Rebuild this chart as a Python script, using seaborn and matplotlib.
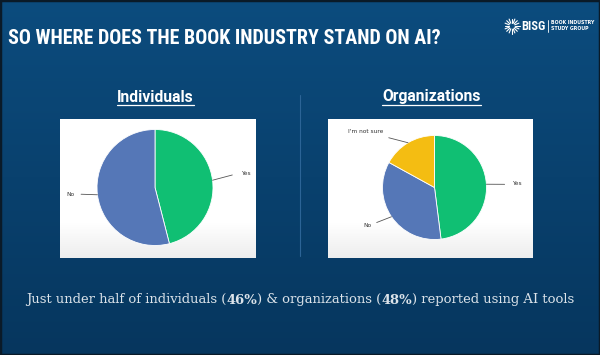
import numpy as np
import matplotlib
matplotlib.use("Agg")
import matplotlib.pyplot as plt
import seaborn as sns
from matplotlib.patches import Rectangle
from matplotlib.lines import Line2D
from matplotlib import font_manager

# ---- data ----
title_text = "SO WHERE DOES THE BOOK INDUSTRY STAND ON AI?"
ind_labels = ["Yes", "No"]
ind_values = [46, 54]
org_labels = ["Yes", "No", "I'm not sure"]
org_values = [48, 35, 17]
panel_titles = ["Individuals", "Organizations"]
footer_parts = [("Just under half of individuals (", False), ("46%", True),
                (") & organizations (", False), ("48%", True),
                (") reported using AI tools", False)]
color_map = {"Yes": "#10bf73", "No": "#5577b7", "I'm not sure": "#f4bd12"}

sns.set_theme(style="white")
plt.rcParams['font.family'] = ['DejaVu Sans']

# pick a condensed font for the title if one is installed
entries = [(f.name, f.stretch, f.weight) for f in font_manager.fontManager.ttflist]
names = {e[0] for e in entries}
title_font = dict(family=['DejaVu Sans'], weight="bold")
for cand in ['Roboto Condensed', 'Liberation Sans Narrow', 'Open Sans Condensed',
             'Noto Sans Condensed']:
    if cand in names:
        title_font = dict(family=[cand], weight="bold")
        break
else:
    cond = [e for e in entries if e[0] in ('DejaVu Sans', 'Noto Sans', 'Open Sans', 'Roboto')
            and str(e[1]) in ('condensed', 'semi-condensed', 'extra-condensed', '75', '87.5')]
    if cond:
        title_font = dict(family=[cond[0][0]], weight="bold", stretch=cond[0][1])
    elif 'Roboto' in names:
        title_font = dict(family=['Roboto'], weight="bold")

W, H = 600, 355
fig = plt.figure(figsize=(W / 100, H / 100), dpi=100)


def rect(x, y, w, h):
    return [x / W, 1 - (y + h) / H, w / W, h / H]


def fx(x):
    return x / W


def fy(y):
    return 1 - y / H


# background gradient
bg = fig.add_axes([0, 0, 1, 1])
bg.set_axis_off()
top = np.array([0x0c, 0x4c, 0x7e]) / 255
bot = np.array([0x06, 0x36, 0x5e]) / 255
t = np.linspace(0, 1, 256)[:, None]
grad = top[None, None, :] * (1 - t[..., None]) + bot[None, None, :] * t[..., None]
grad = np.repeat(grad, 2, axis=1)
bg.imshow(grad, aspect="auto", extent=[0, 1, 0, 1], origin="upper")
bg.set_xlim(0, 1)
bg.set_ylim(0, 1)
bg.add_patch(Rectangle((0, 0), 1, 1, transform=bg.transAxes, fill=False,
                       edgecolor="#0a1a28", linewidth=2.5))
# divider
bg.add_line(Line2D([fx(300), fx(300)], [fy(95), fy(256)], color="#2c6496", linewidth=0.8))

renderer = fig.canvas.get_renderer()

# title: fit width 8..442 px
title = fig.text(fx(8), fy(38), title_text, color="white", fontsize=20,
                 va="center", ha="left", **title_font)
w = title.get_window_extent(renderer).width
title.set_fontsize(20 * 434 / w)

# logo
lx, ly = 512, 26
for a in np.linspace(0, 2 * np.pi, 16, endpoint=False):
    bg.add_line(Line2D([fx(lx + 3 * np.cos(a)), fx(lx + 7.5 * np.cos(a))],
                       [fy(ly + 3 * np.sin(a)), fy(ly + 7.5 * np.sin(a))],
                       color="white", linewidth=0.8))
logo = fig.text(fx(521), fy(ly), "BISG", color="white", fontsize=10, va="center", ha="left",
                **title_font)
lw_ = logo.get_window_extent(renderer).width
logo.set_fontsize(10 * 24 / lw_)
bg.add_line(Line2D([fx(548), fx(548)], [fy(20), fy(32)], color="white", linewidth=0.6))
fig.text(fx(551), fy(ly - 3), "BOOK INDUSTRY", color="white", fontsize=3.4, weight="bold",
         va="center", ha="left")
fig.text(fx(551), fy(ly + 3), "STUDY GROUP", color="white", fontsize=3.4, weight="bold",
         va="center", ha="left")

head_family = ['Roboto', 'DejaVu Sans'] if 'Roboto' in names else ['DejaVu Sans']


def panel(box, center, radius, labels, values, title_xy, title_str, title_w, label_spec):
    bx, by, bw, bh = box
    ax = fig.add_axes(rect(bx, by, bw, bh))
    cx, cy = center
    x0 = (bx - cx) / radius
    x1 = (bx + bw - cx) / radius
    y1 = (cy - by) / radius
    y0 = (cy - (by + bh)) / radius
    gy = np.linspace(0, 1, 100)[:, None]
    shade = np.clip((gy - 0.75) / 0.25, 0, 1) * 0.07
    card = np.ones((100, 2, 3)) * (1 - shade[..., None])
    ax.imshow(card, extent=[x0, x1, y0, y1], aspect="auto", origin="upper", zorder=0)
    wedges, _ = ax.pie(values, colors=[color_map[l] for l in labels], startangle=90,
                       counterclock=False,
                       wedgeprops=dict(edgecolor="white", linewidth=0.6))
    for wdg in wedges:
        wdg.set_zorder(2)
    ax.set_xlim(x0, x1)
    ax.set_ylim(y0, y1)
    ax.set_aspect("auto")
    ax.set_axis_off()
    for wdg, lab in zip(wedges, labels):
        ang = np.deg2rad((wdg.theta1 + wdg.theta2) / 2)
        r_in, r_out, r_txt, dang = label_spec[lab]
        a2 = ang + np.deg2rad(dang)
        ax.plot([r_in * np.cos(ang), r_out * np.cos(a2)],
                [r_in * np.sin(ang), r_out * np.sin(a2)], color="#555555", lw=0.6, zorder=3)
        tx, ty = r_txt * np.cos(a2), r_txt * np.sin(a2)
        ha = "left" if np.cos(a2) > 0.2 else ("right" if np.cos(a2) < -0.2 else "center")
        ax.text(tx, ty, lab, fontsize=4.2, color="#333333", ha=ha, va="center", zorder=3)
    tt = fig.text(fx(title_xy[0]), fy(title_xy[1]), title_str, color="white", fontsize=10.5,
                  weight="bold", family=head_family, ha="center", va="center")
    tw = tt.get_window_extent(renderer).width
    tt.set_fontsize(10.5 * title_w / tw)
    ext = tt.get_window_extent(renderer)
    bg.add_line(Line2D([ext.x0 / W, ext.x1 / W], [(ext.y0 - 0.5) / H] * 2,
                       color="white", linewidth=0.9))


panel((60, 119, 196, 139), (155, 187.5), 58, ind_labels, ind_values, (155.5, 97),
      panel_titles[0], 77,
      {"Yes": (1.0, 1.35, 1.5, 2), "No": (1.0, 1.28, 1.4, -2)})
panel((328, 119, 205, 139), (434.5, 187.5), 52, org_labels, org_values, (431.5, 97),
      panel_titles[1], 99,
      {"Yes": (1.0, 1.35, 1.5, -1), "No": (1.0, 1.3, 1.42, -3),
       "I'm not sure": (1.0, 1.3, 1.45, 12)})

# footer
texts = []
for s, b in footer_parts:
    texts.append(fig.text(0, fy(300), s, color="#dce3ea", fontsize=13,
                          family=['DejaVu Serif'],
                          weight="bold" if b else "normal", va="center", ha="left"))
widths = [tx.get_window_extent(renderer).width for tx in texts]
scale = 550 / sum(widths)
for tx in texts:
    tx.set_fontsize(13 * scale)
widths = [tx.get_window_extent(renderer).width for tx in texts]
x = (W - sum(widths)) / 2
for tx, wd in zip(texts, widths):
    tx.set_x(x / W)
    x += wd

fig.savefig("out.png", dpi=100)
